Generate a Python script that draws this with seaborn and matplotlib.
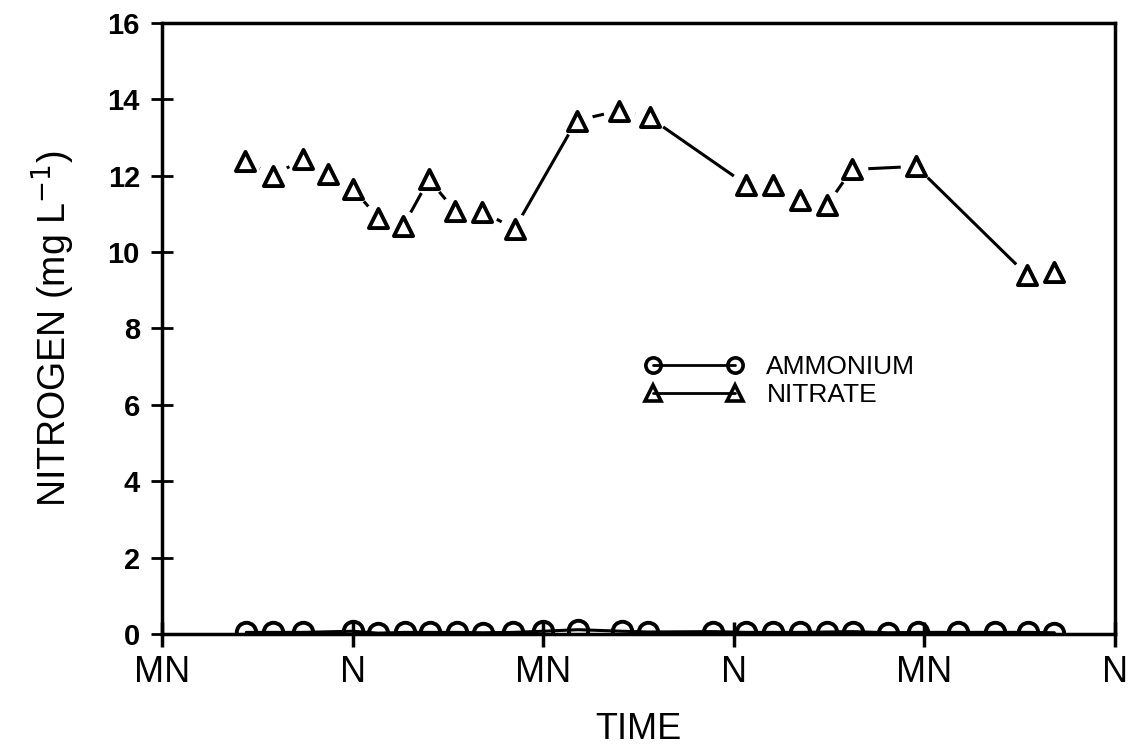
import numpy as np
import matplotlib
matplotlib.use("Agg")
import matplotlib.pyplot as plt
import seaborn as sns
from matplotlib.lines import Line2D

# hours from the first midnight
nitrate_hours = [5.2, 7.0, 8.9, 10.45, 12.0, 13.6, 15.2, 16.8, 18.45, 20.15, 22.2,
                 26.1, 28.8, 30.7, 36.8, 38.5, 40.2, 41.9, 43.45, 47.5, 54.5, 56.2]
nitrate_mg = [12.39, 12.0, 12.44, 12.03, 11.66, 10.9, 10.69, 11.9, 11.08, 11.06, 10.61,
              13.44, 13.7, 13.52, 11.76, 11.76, 11.35, 11.24, 12.16, 12.24, 9.39, 9.47]

ammonium_hours = [5.3, 7.0, 8.85, 12.0, 13.6, 15.3, 16.9, 18.55, 20.2, 22.1, 24.0,
                  26.2, 28.95, 30.6, 34.7, 36.8, 38.5, 40.2, 41.85, 43.5, 45.75,
                  47.6, 50.15, 52.45, 54.55, 56.2]
ammonium_mg = [0.05, 0.05, 0.05, 0.08, 0.03, 0.05, 0.05, 0.05, 0.04, 0.05, 0.08,
               0.12, 0.08, 0.06, 0.07, 0.05, 0.05, 0.05, 0.06, 0.07, 0.04,
               0.05, 0.05, 0.05, 0.05, 0.04]

tick_hours = [0, 12, 24, 36, 48, 60]
tick_names = ["MN", "N", "MN", "N", "MN", "N"]

sns.set_style("ticks")
plt.rcParams["font.family"] = ["Liberation Sans", "DejaVu Sans"]
plt.rcParams["text.color"] = "black"
plt.rcParams["axes.labelcolor"] = "black"
plt.rcParams["xtick.color"] = "black"
plt.rcParams["ytick.color"] = "black"

fig = plt.figure(figsize=(11.34, 7.56), dpi=100)
ax = fig.add_axes([0.143, 0.161, 0.840, 0.809])

# ammonium: open circles with the line running through them
sns.lineplot(x=ammonium_hours, y=ammonium_mg, ax=ax, color="black", lw=2.2,
             marker="o", markersize=14, markerfacecolor="none",
             markeredgecolor="black", markeredgewidth=2.8, sort=False, zorder=3)

# nitrate: line broken short of each triangle
sns.lineplot(x=nitrate_hours, y=nitrate_mg, ax=ax, color="black", lw=2.2,
             sort=False, zorder=2)
sns.scatterplot(x=nitrate_hours, y=nitrate_mg, ax=ax, marker="o", s=520,
                color="white", edgecolor="white", linewidth=0, zorder=3)
sns.scatterplot(x=nitrate_hours, y=nitrate_mg, ax=ax, marker="^", s=190,
                color="white", edgecolor="black", linewidth=2.8, zorder=4)

ax.set_xlim(0, 60)
ax.set_ylim(0, 16)
ax.set_xticks(tick_hours)
ax.set_xticklabels(tick_names, fontsize=26)
ax.set_yticks(range(0, 17, 2))
ax.set_yticklabels([str(v) for v in range(0, 17, 2)], fontsize=21, fontweight="bold")
ax.tick_params(axis="y", direction="inout", length=16, width=2, pad=8)
ax.tick_params(axis="x", direction="inout", length=18, width=2.5, pad=6)
for side in ax.spines.values():
    side.set_linewidth(2.5)
    side.set_color("black")

ax.set_xlabel("TIME", fontsize=26, labelpad=16)
ax.set_ylabel("NITROGEN (mg L$^{-1}$)", fontsize=27, labelpad=22)

handles = [
    Line2D([], [], color="black", lw=2, marker="o", markersize=11,
           markerfacecolor="none", markeredgewidth=2.6),
    Line2D([], [], color="black", lw=2, marker="^", markersize=11,
           markerfacecolor="none", markeredgewidth=2.6),
]
ax.legend(handles, ["AMMONIUM", "NITRATE"], numpoints=2, frameon=False,
          loc="upper left", bbox_to_anchor=(0.482, 0.495), fontsize=19,
          handlelength=3.7, handletextpad=0.9, labelspacing=0.15)

fig.savefig("out.png", dpi=100)
